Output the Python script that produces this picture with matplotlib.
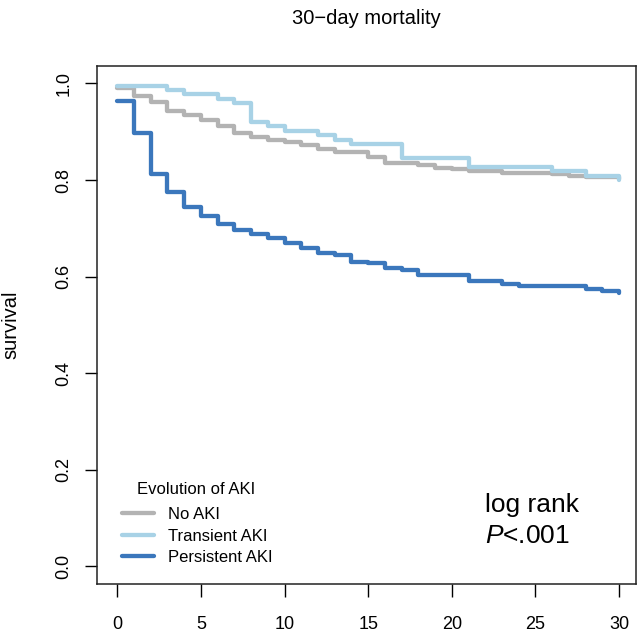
import matplotlib
matplotlib.use("Agg")
import matplotlib.pyplot as plt

plt.rcParams['font.family'] = ['Liberation Sans', 'DejaVu Sans']
plt.rcParams['mathtext.fontset'] = 'custom'
plt.rcParams['mathtext.rm'] = 'Liberation Sans'
plt.rcParams['mathtext.it'] = 'Liberation Sans:italic'

title = "30\u2212day mortality"
ylabel = "survival"
legend_title = "Evolution of AKI"
groups = ["No AKI", "Transient AKI", "Persistent AKI"]
colors = ["#B3B3B3", "#A8D2E6", "#3B77BC"]

no_aki_t = [0, 1, 2, 3, 4, 5, 6, 7, 8, 9, 10, 11, 12, 13, 15, 16, 18, 19, 20, 21, 23, 26, 27, 28, 30]
no_aki_s = [0.990, 0.974, 0.961, 0.942, 0.935, 0.924, 0.911, 0.898, 0.890, 0.883, 0.878, 0.873,
            0.864, 0.858, 0.848, 0.836, 0.831, 0.826, 0.822, 0.819, 0.815, 0.813, 0.809, 0.806, 0.802]

transient_t = [0, 3, 4, 6, 7, 8, 9, 10, 12, 13, 14, 17, 21, 26, 28, 30]
transient_s = [0.995, 0.987, 0.978, 0.968, 0.959, 0.921, 0.912, 0.902, 0.893, 0.884, 0.875,
               0.846, 0.828, 0.819, 0.808, 0.800]

persistent_t = [0, 1, 2, 3, 4, 5, 6, 7, 8, 9, 10, 11, 12, 13, 14, 15, 16, 17, 18, 21, 23, 24, 28, 29, 30]
persistent_s = [0.964, 0.897, 0.813, 0.776, 0.745, 0.726, 0.709, 0.697, 0.688, 0.680, 0.669, 0.659,
                0.648, 0.644, 0.631, 0.628, 0.617, 0.614, 0.603, 0.591, 0.584, 0.581, 0.575, 0.570, 0.566]

x_ticks = [0, 5, 10, 15, 20, 25, 30]
y_ticks = [0.0, 0.2, 0.4, 0.6, 0.8, 1.0]
y_ticklabels = ["0.0", "0.2", "0.4", "0.6", "0.8", "1.0"]

W, H = 640, 637
fig = plt.figure(figsize=(W / 100, H / 100), dpi=100)
L, R, T, B = 97.3, 635.7, 66.0, 584.3
ax = fig.add_axes([L / W, (H - B) / H, (R - L) / W, (B - T) / H])

series = [(no_aki_t, no_aki_s), (transient_t, transient_s), (persistent_t, persistent_s)]
for (t, s), lab, c in zip(series, groups, colors):
    ax.step(t, s, where='post', color=c, lw=3.1, label=lab,
            solid_capstyle='round', solid_joinstyle='round')

ax.set_xlim(-1.195, 30.99)
ax.set_ylim(-0.0369, 1.0362)
ax.set_xticks(x_ticks)
ax.set_yticks(y_ticks)
ax.set_yticklabels(y_ticklabels)
ax.tick_params(axis='both', direction='out', length=9, width=1, labelsize=13, color='black')
ax.tick_params(axis='x', pad=14)
ax.tick_params(axis='y', pad=9, labelrotation=90)
for lbl in ax.get_yticklabels():
    lbl.set_va('center')
for sp in ax.spines.values():
    sp.set_color('#222222')
    sp.set_linewidth(1.1)

ax.set_title(title, fontsize=14.5, pad=30)
fig.text(11 / W, (H - 325) / H, ylabel, rotation=90, ha='center', va='center', fontsize=14.5)

fig.text(196.3 / W, (H - 490) / H, legend_title, ha='center', va='center', fontsize=12)
leg = ax.legend(loc='upper left',
                bbox_to_anchor=(121.7 / W, (H - 507.3) / H), bbox_transform=fig.transFigure,
                frameon=False, fontsize=12, handlelength=1.94,
                handletextpad=0.86, labelspacing=0.38, borderpad=0, borderaxespad=0)

ax.text(22.0, 0.113, "log rank", fontsize=19, ha='left', va='baseline')
ax.text(22.0, 0.048, "$P$<.001", fontsize=19, ha='left', va='baseline')

fig.savefig("out.png", dpi=100)
